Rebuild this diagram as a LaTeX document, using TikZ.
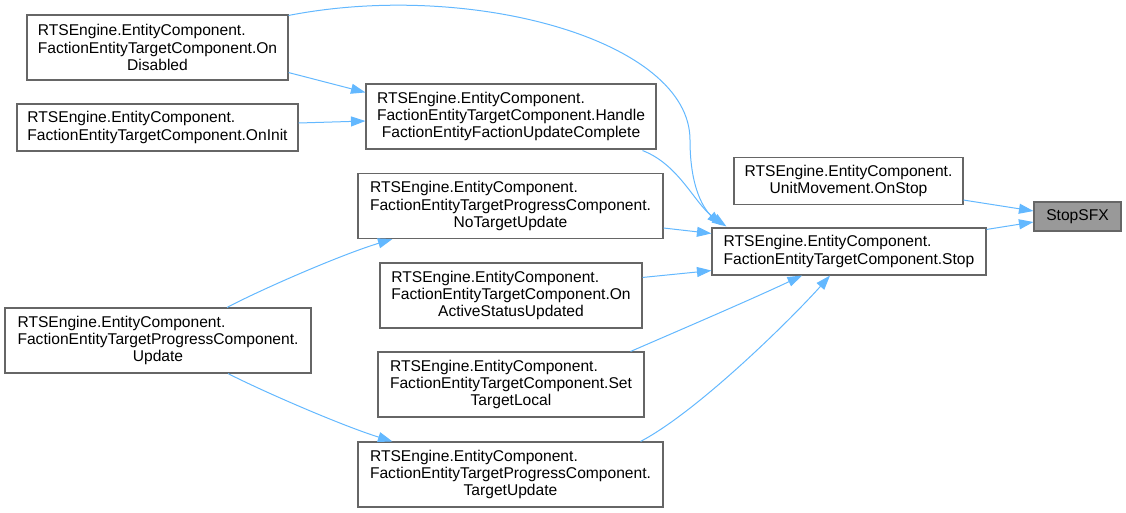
\documentclass[tikz,border=0pt]{standalone}
\usepackage{fontspec}
\setmainfont{Liberation Sans}
\usetikzlibrary{arrows.meta,calc}
\definecolor{edgeblue}{HTML}{63B8FF}
\definecolor{boxborder}{HTML}{666666}
\definecolor{sfxfill}{HTML}{999999}
\newcommand\twoleft[2]{\setbox0\hbox{#2}\makebox[\wd0][l]{#1}\\#2}
\begin{document}
\begin{tikzpicture}[x=1pt,y=-1pt,
  fn/.style={draw=boxborder,line width=1.1pt,fill=white,inner sep=0pt,align=center,
    font=\fontsize{15.6}{17.3}\selectfont,text=black},
  call/.style={draw=edgeblue,line width=1pt,-{Triangle[length=14.5pt,width=10pt]}}]
\useasboundingbox (0,0) rectangle (1126,512);
\node[fn,minimum width=261,minimum height=65] (odis) at (157.5,47.5)
  {\twoleft{RTSEngine.EntityComponent.}{FactionEntityTargetComponent.On}\\Disabled};
\node[fn,minimum width=281,minimum height=47] (oinit) at (157.5,127.5)
  {\twoleft{RTSEngine.EntityComponent.}{FactionEntityTargetComponent.OnInit}};
\node[fn,minimum width=290,minimum height=65] (handle) at (511,116.5)
  {\twoleft{RTSEngine.EntityComponent.}{FactionEntityTargetComponent.Handle}\\FactionEntityFactionUpdateComplete};
\node[fn,minimum width=305,minimum height=65] (notu) at (510.5,206)
  {\twoleft{RTSEngine.EntityComponent.}{FactionEntityTargetProgressComponent.}\\NoTargetUpdate};
\node[fn,minimum width=274,minimum height=47] (stop) at (849,251.5)
  {\twoleft{RTSEngine.EntityComponent.}{FactionEntityTargetComponent.Stop}};
\node[fn,minimum width=229,minimum height=47] (onstop) at (848.5,181)
  {RTSEngine.EntityComponent.\\UnitMovement.OnStop};
\node[fn,fill=sfxfill,minimum width=87,minimum height=29] (sfx) at (1077.5,216.5)
  {StopSFX};
\node[fn,minimum width=306,minimum height=65] (upd) at (158,340.5)
  {\twoleft{RTSEngine.EntityComponent.}{FactionEntityTargetProgressComponent.}\\Update};
\node[fn,minimum width=262,minimum height=65] (oasu) at (511,295.5)
  {\twoleft{RTSEngine.EntityComponent.}{FactionEntityTargetComponent.On}\\ActiveStatusUpdated};
\node[fn,minimum width=266,minimum height=65] (stl) at (511,384.5)
  {\twoleft{RTSEngine.EntityComponent.}{FactionEntityTargetComponent.Set}\\TargetLocal};
\node[fn,minimum width=305,minimum height=65] (tu) at (510.5,474.5)
  {\twoleft{RTSEngine.EntityComponent.}{FactionEntityTargetProgressComponent.}\\TargetUpdate};

\draw[call] ($(onstop.south east)+(0,-5)$) -- ($(sfx.west)+(0,-5.5)$);
\draw[call] ($(stop.north east)+(0,2)$) -- ($(sfx.west)+(0,5.5)$);
\draw[call] ($(odis.north east)+(0,1)$) .. controls (470,-20) and (690,40) .. (690,140)
  .. controls (690,190) and (705,210) .. ($(stop.north west)+(10,-2)$);
\draw[call] ($(odis.south east)+(0,-8)$) -- ($(handle.north west)+(0,9)$);
\draw[call] ($(oinit.east)+(0,-4.5)$) -- ($(handle.west)+(0,4.5)$);
\draw[call] ($(handle.south east)+(-14,1)$) .. controls (680,165) and (695,205) .. ($(stop.north west)+(15,-1)$);
\draw[call] ($(notu.east)+(0,22)$) -- ($(stop.north west)+(0,6)$);
\draw[call] ($(oasu.north east)+(0,15)$) -- ($(stop.south west)+(0,-5)$);
\draw[call] ($(stl.north east)+(-14,0)$) .. controls (680,330) and (750,300) .. ($(stop.south)+(-47,0)$);
\draw[call] ($(tu.north east)+(-23,0)$) .. controls (700,410) and (795,315) .. ($(stop.south)+(-19,0)$);
\draw[call] ($(upd.north)+(69,0)$) .. controls (260,290) and (340,255) .. ($(notu.south west)+(35,0)$);
\draw[call] ($(upd.south)+(70,0)$) .. controls (260,390) and (340,425) .. ($(tu.north west)+(35,0)$);
\end{tikzpicture}
\end{document}
